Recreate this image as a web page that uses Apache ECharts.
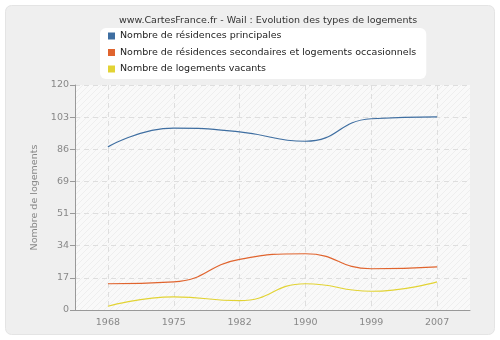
<!DOCTYPE html>
<html><head><meta charset="utf-8">
<script src="https://cdn.jsdelivr.net/npm/echarts@6/dist/echarts.min.js"></script>
<style>html,body{margin:0;padding:0;background:#fff}#c{width:500px;height:340px}</style>
</head><body><div id="c"></div>
<script>
var years = ['1968','1975','1982','1990','1999','2007'];
var principales = [87, 97, 95, 90, 102, 103];
var secondaires = [14, 15, 27, 30, 22, 23];
var vacants = [2, 7, 5, 14, 10, 15];
var seriesNames = ['Nombre de résidences principales','Nombre de résidences secondaires et logements occasionnels','Nombre de logements vacants'];
var colors = ['#3e6ea1','#e0642e','#e2d334'];

var pc = document.createElement('canvas');
pc.width = 6; pc.height = 6;
var g = pc.getContext('2d');
g.fillStyle = '#f9f9f9'; g.fillRect(0,0,6,6);
g.strokeStyle = '#eeeeee'; g.lineWidth = 1;
g.beginPath(); g.moveTo(0,6); g.lineTo(6,0); g.stroke();
g.beginPath(); g.moveTo(-1,1); g.lineTo(1,-1); g.stroke();
g.beginPath(); g.moveTo(5,7); g.lineTo(7,5); g.stroke();

var chart = echarts.init(document.getElementById('c'));
var font = 'DejaVu Sans, Verdana, sans-serif';
var fs = 9.5;
chart.setOption({
  animation:false,
  backgroundColor:'#ffffff',
  graphic:[{type:'rect',shape:{x:5.5,y:5.5,width:489,height:329,r:6},style:{fill:'#efefef',stroke:'#e4e4e4',lineWidth:1},z:-10}],
  title:{text:'www.CartesFrance.fr - Wail : Evolution des types de logements',left:114,top:11,
    textStyle:{fontFamily:font,fontSize:fs,fontWeight:'normal',color:'#333'}},
  legend:{orient:'vertical',left:100,top:28,backgroundColor:'#fff',borderRadius:6,
    padding:[3,10,5,8],itemWidth:7,itemHeight:7,itemGap:6.5,icon:'rect',
    textStyle:{fontFamily:font,fontSize:fs,color:'#222'},
    data:seriesNames},
  grid:{left:75,right:30,top:85,bottom:30,show:true,borderWidth:0,
    backgroundColor:{image:pc,repeat:'repeat'}},
  xAxis:{type:'category',data:years,boundaryGap:true,
    axisLine:{lineStyle:{color:'#999'}},
    axisTick:{alignWithLabel:true,length:5,lineStyle:{color:'#999'}},
    axisLabel:{fontFamily:font,fontSize:fs,color:'#888',margin:8},
    splitLine:{show:true,alignWithLabel:true,lineStyle:{color:'#dedede',type:[5,4]}}},
  yAxis:{type:'value',min:0,max:120,interval:120/7,
    name:'Nombre de logements',nameLocation:'middle',nameGap:34,
    nameTextStyle:{fontFamily:font,fontSize:fs,color:'#888'},
    axisLine:{show:true,lineStyle:{color:'#999'}},
    axisTick:{show:true,length:5,lineStyle:{color:'#999'}},
    axisLabel:{fontFamily:font,fontSize:fs,color:'#888',margin:6,formatter:function(v){return Math.round(v);}},
    splitLine:{show:true,lineStyle:{color:'#dedede',type:[5,4]}}},
  series:[
    {name:seriesNames[0],type:'line',data:principales,smooth:0.5,symbol:'none',lineStyle:{width:1.2,color:colors[0]},itemStyle:{color:colors[0]}},
    {name:seriesNames[1],type:'line',data:secondaires,smooth:0.5,symbol:'none',lineStyle:{width:1.2,color:colors[1]},itemStyle:{color:colors[1]}},
    {name:seriesNames[2],type:'line',data:vacants,smooth:0.5,symbol:'none',lineStyle:{width:1.2,color:colors[2]},itemStyle:{color:colors[2]}}
  ]
});
</script></body></html>
